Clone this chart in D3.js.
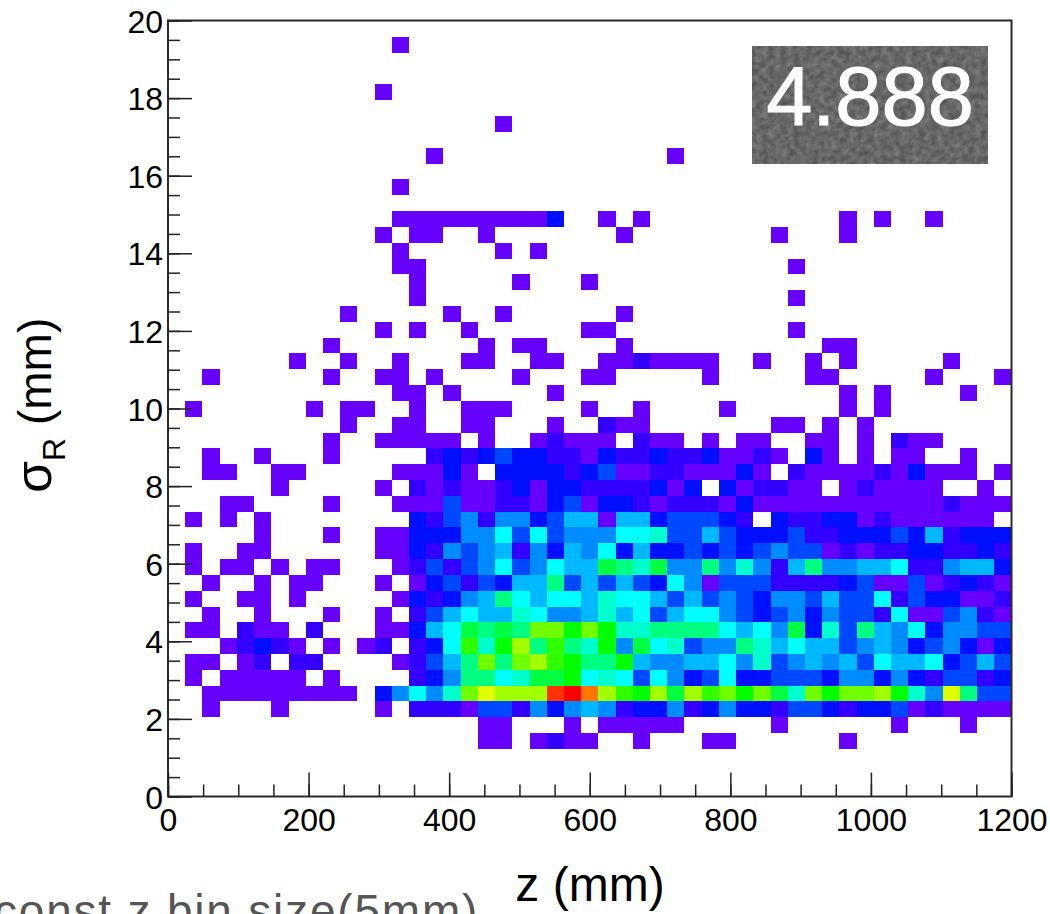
<!DOCTYPE html>
<html>
<head>
<meta charset="utf-8">
<script src="https://cdn.jsdelivr.net/npm/d3@7"></script>
<style>
html,body{margin:0;padding:0;background:#fff;overflow:hidden}
svg{display:block}
text{font-family:"Liberation Sans",Arial,sans-serif;fill:#000}
</style>
</head>
<body>
<svg id="chart" width="1050" height="914"></svg>
<script>
// Histogram binning: 49 x 49 bins over the axis ranges
const binCount = 49;
const zDomain = [0, 1200];
const sigmaDomain = [0, 20];
const zMajorTicks = [0, 200, 400, 600, 800, 1000, 1200];
const zMinorTicks = d3.range(0, 1201, 50);
const sigmaMajorTicks = [0, 2, 4, 6, 8, 10, 12, 14, 16, 18, 20];
const sigmaMinorTicks = d3.range(0, 20.01, 0.5);

// Bin contents per row: [row from the bottom, "startColumn:counts ..."], counts in base 36
const rowCells = [
  [3, "18:11 21:1211 27:1 31:11 39:1"],
  [4, "18:11 23:1 25:11111 35:1 42:1 46:1"],
  [5, "2:1 6:1 12:1 14:2221442535 24:6523352353 34:3244323341 44:21111"],
  [6, "2:111111111 12:35758dfeee 22:higecbeaec 32:dbda8dbdde 42:b85f944"],
  [7, "1:1 3:11111 9:1 14:2359978aab 24:7874753473 34:3444355353 44:24423"],
  [8, "1:11 4:12 7:22 13:1 14:2469d9decb 24:99b6556675 34:8456564766 44:73464"],
  [9, "3:12321 9:1 11:12 14:237c8be9c9 24:8b5a784559 34:8676645653 44:45313"],
  [10, "1:11 4:211 8:2 12:11 14:367a9a9ddb 24:db88999976 34:75a3849657 44:35544"],
  [11, "2:1 5:1 9:1 12:1 14:2467668755 24:6867467754 34:3453544271 44:14521"],
  [12, "1:1 4:11 7:1 13:1323569767 23:7687764645 33:4355464472 43:433112"],
  [13, "2:1 5:1 7:11 12:1 14:1342436694 24:6464375144 34:4222234114 44:12321"],
  [14, "1:1 3:11 6:1 8:11 13:1242457457 23:66a98a5595 33:8526955667 43:225663"],
  [15, "1:1 4:11 12:1132545625 22:3657363343 32:4345441212 42:2332232"],
  [16, "5:1 9:1 12:1133355747 22:4555778446 32:4333422333 42:4362333"],
  [17, "1:1 3:1 5:1 14:3245255346 24:6166344432 35:3223312111111"],
  [18, "3:11 9:1 13:1114112213 23:4133212221 33:3111111111112111"],
  [19, "6:1 12:1 14:2121123133 24:2222313 32:312211 39:121111 47:1"],
  [20, "2:11 6:11 13:11131 19:33332341122111 33:31 36:21111213111 48:1"],
  [21, "2:1 5:1 9:1 15:2323433221 25:32232231121 37:31 40:1 42:11 46:1"],
  [22, "9:1 12:11111 18:1 21:12111 27:211 31:1 33:11 37:11 40:1 42:211"],
  [23, "10:1 13:11 17:11 22:1 25:211 35:11 38:1 40:1"],
  [24, "1:1 8:1 10:11 14:1 17:111 24:1 27:1 32:1 39:1 41:1"],
  [25, "13:11 16:1 22:1 39:1 41:1 46:1"],
  [26, "2:1 9:1 12:11 15:1 20:1 24:11 31:1 37:11 44:1 48:1"],
  [27, "7:1 10:1 13:1 17:11 21:11 25:11 27:2 28:1111 34:1 37:1 39:1 45:1"],
  [28, "9:1 18:1 20:11 26:1 38:11"],
  [29, "12:1 14:1 17:1 24:11 36:1"],
  [30, "10:1 16:1 19:1 26:1"],
  [31, "14:1 36:1"],
  [32, "14:1 20:1 24:1"],
  [33, "13:11 36:1"],
  [34, "13:1 19:1 21:1"],
  [35, "12:1 14:11 18:1 26:1 35:1 39:1"],
  [36, "13:111111111 22:3 25:1 27:1 39:1 41:1 44:1"],
  [38, "13:1"],
  [40, "15:1 29:1"],
  [42, "19:1"],
  [44, "12:1"],
  [47, "13:1"]
];

// Palette by bin count (1..18)
const palette = ["#6600ff","#3300ff","#0010ff","#0048ff","#008cff","#00b8ff","#00ffff","#00ffcc","#00ff80",
                 "#00ff40","#00ff00","#30ff00","#70ff00","#a0ff00","#e0ff00","#ff7700","#ff3300","#ff0000"];

const xLabel = "z (mm)";
const badgeValue = "4.888";
const noteText = "const z  bin size(5mm)";

const svg = d3.select("#chart");
const x = d3.scaleLinear().domain(zDomain).range([168, 1011.5]);
const y = d3.scaleLinear().domain(sigmaDomain).range([796.5, 20.5]);
const yCell = d3.scaleLinear().domain(sigmaDomain).range([796.4, 21.2]);
const color = d3.scaleOrdinal().domain(d3.range(1, palette.length + 1)).range(palette);

const cells = rowCells.flatMap(([row, spec]) =>
  spec.split(" ").flatMap(seg => {
    const [start, counts] = seg.split(":");
    return Array.from(counts, (ch, i) => ({ col: +start + i, row, count: parseInt(ch, 36) }));
  })
);
const zBin = (zDomain[1] - zDomain[0]) / binCount;
const sBin = (sigmaDomain[1] - sigmaDomain[0]) / binCount;

svg.append("defs").append("filter")
  .attr("id", "grain").attr("x", 0).attr("y", 0).attr("width", 1).attr("height", 1)
  .attr("color-interpolation-filters", "sRGB")
  .call(f => {
    f.append("feTurbulence").attr("type", "fractalNoise").attr("baseFrequency", 0.16).attr("numOctaves", 4).attr("seed", 4);
    f.append("feColorMatrix").attr("type", "matrix")
      .attr("values", "0.25 0 0 0 0.28  0.25 0 0 0 0.28  0.25 0 0 0 0.28  0 0 0 0 1");
  });

svg.append("g").selectAll("rect").data(cells).join("rect")
  .attr("x", d => Math.round(x(d.col * zBin)))
  .attr("width", d => Math.round(x((d.col + 1) * zBin)) - Math.round(x(d.col * zBin)))
  .attr("y", d => Math.round(yCell((d.row + 1) * sBin)))
  .attr("height", d => Math.round(yCell(d.row * sBin)) - Math.round(yCell((d.row + 1) * sBin)))
  .attr("fill", d => color(d.count))
  .attr("shape-rendering", "crispEdges");

// Frame
svg.append("rect")
  .attr("x", x(0)).attr("y", y(20)).attr("width", x(1200) - x(0)).attr("height", y(0) - y(20))
  .attr("fill", "none").attr("stroke", "#2b2b2b").attr("stroke-width", 2);

// Axes with inward ticks
function styleAxis(g) {
  g.select(".domain").remove();
  g.selectAll(".tick line").attr("stroke", "#222").attr("stroke-width", 1.5);
}
svg.append("g").attr("transform", `translate(0,${y(0)})`)
  .call(d3.axisBottom(x).tickValues(zMinorTicks).tickSize(-12).tickFormat(""))
  .call(styleAxis);
svg.append("g").attr("transform", `translate(0,${y(0)})`)
  .call(d3.axisBottom(x).tickValues(zMajorTicks).tickSize(-24).tickFormat(d3.format("d")))
  .call(styleAxis)
  .call(g => g.selectAll("text").attr("font-size", 32).attr("font-family", "Liberation Sans").attr("fill", "#000").attr("y", 34).attr("dy", 0));
svg.append("g").attr("transform", `translate(${x(0)},0)`)
  .call(d3.axisLeft(y).tickValues(sigmaMinorTicks).tickSize(-12).tickFormat(""))
  .call(styleAxis);
svg.append("g").attr("transform", `translate(${x(0)},0)`)
  .call(d3.axisLeft(y).tickValues(sigmaMajorTicks).tickSize(-24).tickFormat(d3.format("d")))
  .call(styleAxis)
  .call(g => g.selectAll("text").attr("font-size", 32).attr("font-family", "Liberation Sans").attr("fill", "#000").attr("x", -5).attr("dy", "0.36em"));

// Axis titles
svg.append("text").attr("x", 590).attr("y", 901).attr("text-anchor", "middle").attr("font-size", 48).text(xLabel);
const yt = svg.append("text").attr("transform", "translate(51,493) rotate(-90)").attr("font-size", 46);
yt.append("tspan").attr("font-size", 52).text("σ");
yt.append("tspan").attr("font-size", 32).attr("dy", 14).text("R");
yt.append("tspan").attr("dy", -14).text(" (mm)");

// Badge
svg.append("rect").attr("x", 752).attr("y", 46).attr("width", 236).attr("height", 118).attr("filter", "url(#grain)");
svg.append("text").attr("x", 870).attr("y", 125).attr("text-anchor", "middle").attr("font-size", 83)
  .style("fill", "#fff").style("stroke", "#fff").style("stroke-width", 1).text(badgeValue);

// Cropped note at the foot of the page
svg.append("text").attr("x", -6).attr("y", 927).attr("font-size", 46).attr("letter-spacing", 1.8)
  .attr("font-family", "Lato").attr("font-weight", 300).style("fill", "#555").text(noteText);
</script>
</body>
</html>
